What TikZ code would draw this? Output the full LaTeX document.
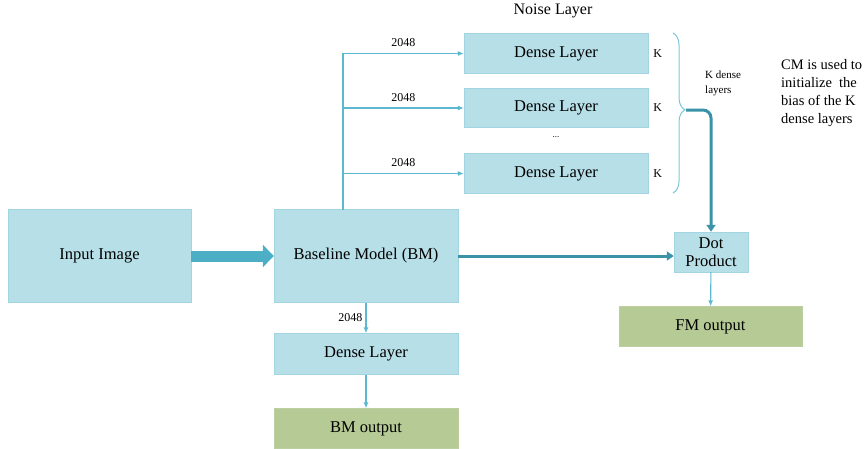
\documentclass[tikz,border=0pt]{standalone}
\usepackage{fontspec}
\setmainfont{Liberation Serif}
\usetikzlibrary{arrows.meta}
\usetikzlibrary{decorations.pathreplacing}
\definecolor{boxblue}{HTML}{B7DFE8}
\definecolor{boxedge}{HTML}{A3D4E1}
\definecolor{outgreen}{HTML}{B5CA95}
\definecolor{linkblue}{HTML}{5CB8CE}
\definecolor{fatblue}{HTML}{4DAFC5}
\definecolor{darkteal}{HTML}{3A93A6}
\tikzset{box/.style = {draw=boxedge, fill=boxblue, inner sep = 0,
                       minimum width = 184, minimum height = 40,
                       font=\fontsize{16.5}{19}\selectfont}}
\tikzset{outbox/.style = {box, draw=outgreen!90!white, fill=outgreen}}
\tikzset{link/.style = {draw=linkblue, line width=1.1pt,
                        -{Latex[length=6pt, width=5pt]}}}
\tikzset{boldlink/.style = {draw=darkteal, line width=3pt,
                            -{Triangle[length=7pt, width=9pt]}}}
\tikzset{fatarrow/.style = {draw=fatblue, line width=11pt,
                            -{Triangle[length=11pt, width=22pt]}}}
\tikzset{num/.style = {font=\fontsize{12}{14}\selectfont, inner sep = 2pt}}

\begin{document}
\begin{tikzpicture}[x=1pt, y=-1pt]
      \useasboundingbox (0, 0) rectangle (866, 448);
      \node [box, minimum width = 183, minimum height = 93] (input) at (99.5, 256) {Input Image};
      \node [box, minimum height = 93] (bm) at (366, 256) {Baseline Model (BM)};
      \node [box, minimum height = 41] (dbm) at (366, 354) {Dense Layer};
      \node [outbox] (bmout) at (366, 428.5) {BM output};
      \node [box] (d1) at (556, 53.5) {Dense Layer};
      \node [box, minimum height = 39] (d2) at (556, 108) {Dense Layer};
      \node [box] (d3) at (556, 173.5) {Dense Layer};
      \node [box, minimum width = 74, align=center] (dot) at (711, 252) {Dot\\[-1pt]Product};
      \node [outbox, minimum width = 183] (fmout) at (710.5, 326.5) {FM output};

      \node [font=\fontsize{16}{19}\selectfont] (noise) at (553, 11) {Noise Layer};
      \node [font=\fontsize{9}{10}\selectfont] (dots) at (556, 137) {...};
      \node [num, right = 3pt] (k1) at (d1.east) {K};
      \node [num, right = 3pt] (k2) at (d2.east) {K};
      \node [num, right = 3pt] (k3) at (d3.east) {K};
      \node [anchor = north west, align = left, inner sep = 0,
             font=\fontsize{11}{15}\selectfont] (kdense) at (705, 71) {K dense\\layers};
      \node [anchor = north west, align = left, inner sep = 0,
             font=\fontsize{14.5}{18}\selectfont] (cm) at (781, 59)
            {CM is used to\\initialize\ \ the\\bias of the K\\dense layers};

      \draw [fatarrow] (input) -- (bm);
      \draw [boldlink] (bm.east) -- (bm.east -| dot.west);

      \coordinate (trunk) at (343, 209.5);
      \draw [link] (trunk) |- node [num, pos = 0.75, above = 4pt] {2048} (d1);
      \draw [link] (trunk |- d2) -- node [num, above = 4pt] {2048} (d2);
      \draw [link] (trunk |- d3) -- node [num, above = 4pt] {2048} (d3);
      \draw [link] (bm) -- node [num, left = 1pt] {2048} (dbm);
      \draw [link] (dbm) -- (bmout);
      \draw [link] (dot) -- (fmout);

      \draw [draw=linkblue!80, line width=1pt,
             decorate, decoration = {brace, amplitude = 12pt, aspect = 0.48}] (673, 33) -- (673, 193);
      \coordinate (bracetip) at (686, 110);
      \draw [boldlink, rounded corners = 8pt] (bracetip) -| (dot);
    \end{tikzpicture}
\end{document}
